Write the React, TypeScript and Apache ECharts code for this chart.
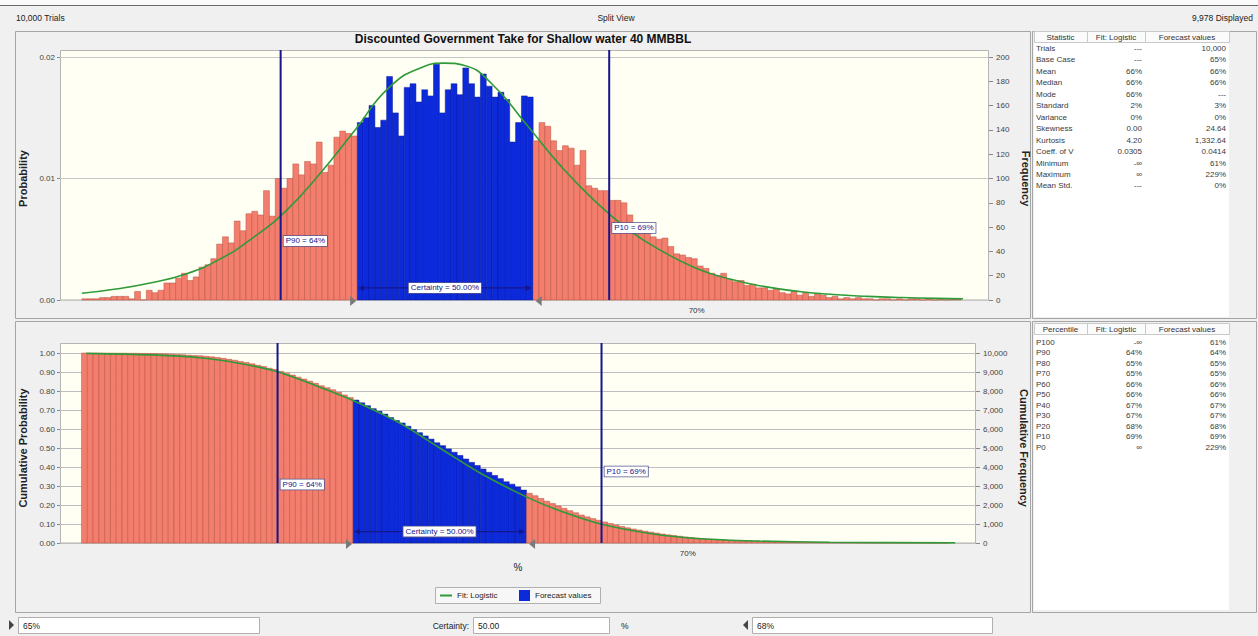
import React, { useEffect, useRef } from "react";
import * as echarts from "echarts";

// ---------- texts ----------
const TRIALS_TEXT = "10,000 Trials";
const VIEW_TEXT = "Split View";
const DISPLAYED_TEXT = "9,978 Displayed";
const TITLE = "Discounted Government Take for Shallow water 40 MMBBL";
const LEFT_SLIDER = "65%";
const RIGHT_SLIDER = "68%";
const CERTAINTY_VALUE = "50.00";
const CERTAINTY_TEXT = "Certainty = 50.00%";

// ---------- histogram data (bins in %) ----------
const binStart = 61.0;
const binWidth = 0.0858;
const frequencies = [
  1, 1, 1, 2, 2, 3, 3, 3, 1, 7, 0, 8, 6, 8, 14, 14, 18, 22, 16, 19,
  27, 29, 34, 46, 52, 47, 65, 57, 71, 73, 70, 90, 69, 100, 92, 100, 112, 103, 114, 112,
  130, 105, 111, 134, 139, 137, 135,
  146, 150, 160, 142, 148, 184, 154, 135, 175, 178, 163, 173, 168, 194, 154, 173, 178, 169, 191, 178,
  167, 186, 176, 167, 171, 165, 130, 146, 168, 167,
  131, 146, 143, 131, 123, 127, 125, 111, 123, 94, 92, 90, 90,
  82, 82, 80, 70, 62, 55, 57, 52, 50, 51,
  44, 38, 37, 35, 34, 28, 26, 22, 20, 22,
  17, 15, 16, 12, 13, 10, 10, 8, 9, 6,
  5, 7, 4, 6, 3, 5, 4, 2, 3, 1,
  2, 1, 2, 1, 1, 0, 1, 1, 0, 1,
  0, 1, 1, 0, 1, 0, 1, 0, 1, 1,
];

// fitted logistic curve (frequency per bin)
const fitX = [61.0, 61.5, 62.0, 62.5, 63.0, 63.5, 64.0, 64.5, 65.0, 65.5, 66.0, 66.3, 66.6, 67.0, 67.5, 68.0, 68.5, 69.0, 69.5, 70.0, 70.5, 71.0, 71.5, 72.0, 72.5, 73.0, 73.5, 73.9];
const fitFreq = [5.5, 9, 14, 21, 33, 51, 74, 105, 140, 175, 192, 195, 193, 178, 145, 111, 82, 58, 40, 26, 17, 11, 7, 4.5, 3, 2, 1.3, 1];

// cumulative (reverse) fit curve
const cumFitX = [61.07, 62.02, 62.76, 63.35, 63.92, 64.54, 65.03, 65.73, 66.32, 66.91, 67.62, 68.1, 68.71, 69.44, 70.18, 71.07, 72.11, 73.97];
const cumFitProb = [0.998, 0.99, 0.975, 0.945, 0.9, 0.82, 0.75, 0.63, 0.5, 0.37, 0.24, 0.17, 0.1, 0.05, 0.022, 0.01, 0.004, 0.0005];

// percentile markers and certainty range
const percentileValues = [63.91, 68.72];
const percentileLabels = ["P90 = 64%", "P10 = 69%"];
const certaintyLow = 65.03;
const certaintyHigh = 67.6;

// axis ticks
const xLabelValues = [70];
const X_MIN = 60.68;
const X_MAX = 74.28;

// tables
const statHeader = ["Statistic", "Fit: Logistic", "Forecast values"];
const statRows = [
  ["Trials", "---", "10,000"],
  ["Base Case", "---", "65%"],
  ["Mean", "66%", "66%"],
  ["Median", "66%", "66%"],
  ["Mode", "66%", "---"],
  ["Standard", "2%", "3%"],
  ["Variance", "0%", "0%"],
  ["Skewness", "0.00", "24.64"],
  ["Kurtosis", "4.20", "1,332.64"],
  ["Coeff. of V", "0.0305", "0.0414"],
  ["Minimum", "-\u221e", "61%"],
  ["Maximum", "\u221e", "229%"],
  ["Mean Std.", "---", "0%"],
];
const pctHeader = ["Percentile", "Fit: Logistic", "Forecast values"];
const pctRows = [
  ["P100", "-\u221e", "61%"],
  ["P90", "64%", "64%"],
  ["P80", "65%", "65%"],
  ["P70", "65%", "65%"],
  ["P60", "66%", "66%"],
  ["P50", "66%", "66%"],
  ["P40", "67%", "67%"],
  ["P30", "67%", "67%"],
  ["P20", "68%", "68%"],
  ["P10", "69%", "69%"],
  ["P0", "\u221e", "229%"],
];

// ---------- styles ----------
const FONT = "'Liberation Sans', Arial, sans-serif";
const RED = "#F47E6E";
const RED_EDGE = "#B9503F";
const BLUE = "#0C2ADA";
const BLUE_EDGE = "#06199A";
const NAVY = "#16168C";
const GREEN = "#2F9A38";
const TOP_LABEL_LEVELS = [48.6, 59.3];
const BOTTOM_LABEL_LEVELS = [0.308, 0.376];
const TOP_ARROW_LEVEL = 9.9;
const BOTTOM_ARROW_LEVEL = 0.06;

function txt(text: string, x: number, y: number, o: any = {}) {
  return {
    type: "text",
    x,
    y,
    z: 10,
    silent: true,
    style: {
      text,
      font: `${o.weight || "normal"} ${o.size || 8.5}px ${FONT}`,
      fill: o.color || "#333",
      align: o.align || "left",
      textAlign: o.align || "left",
      verticalAlign: "middle",
      textVerticalAlign: "middle",
    },
  };
}
function rect(x: number, y: number, w: number, h: number, fill: string | null, stroke?: string, z = -10) {
  return {
    type: "rect",
    z,
    silent: true,
    shape: { x, y, width: w, height: h },
    style: { fill: fill || "none", stroke: stroke || null, lineWidth: stroke ? 1 : 0 },
  };
}

function tableElements(header: string[], rows: string[][], headerY: number, rowY0: number, step: number, bgTop: number, bgBottom: number) {
  const els: any[] = [];
  els.push(rect(1034, bgTop, 195, bgBottom - bgTop, "#ffffff", undefined, -9));
  const cols = [
    [1034, 1087],
    [1087, 1145],
    [1145, 1229],
  ];
  cols.forEach((c, i) => {
    els.push(rect(c[0] + 0.5, headerY - 5.5, c[1] - c[0], 11, "#fbfbfb", "#c9c9c9", -8));
    els.push(txt(header[i], (c[0] + c[1]) / 2, headerY, { align: "center", color: "#333", size: 8 }));
  });
  rows.forEach((r, i) => {
    const y = rowY0 + i * step;
    els.push(txt(r[0], 1036, y, { color: "#3a3a3a", size: 8 }));
    els.push(txt(r[1], 1142, y, { align: "right", color: "#3a3a3a", size: 8 }));
    els.push(txt(r[2], 1226, y, { align: "right", color: "#3a3a3a", size: 8 }));
  });
  return els;
}

function buildOption() {
  const total = frequencies.reduce((a, b) => a + b, 0);
  const binData = frequencies.map((f, i) => {
    const x0 = binStart + i * binWidth;
    const x1 = x0 + binWidth;
    const c = (x0 + x1) / 2;
    return [x0, x1, f, c >= certaintyLow && c <= certaintyHigh ? 1 : 0];
  });
  const cum: number[] = new Array(frequencies.length);
  let run = 0;
  for (let i = frequencies.length - 1; i >= 0; i--) {
    run += frequencies[i];
    cum[i] = run / total;
  }
  const cumData = binData.map((d, i) => [d[0], d[1], cum[i], d[3]]);

  const barRender = (params: any, api: any) => {
    const p0 = api.coord([api.value(0), api.value(2)]);
    const p1 = api.coord([api.value(1), 0]);
    const blue = api.value(3) === 1;
    return {
      type: "rect",
      shape: { x: p0[0], y: p0[1], width: p1[0] - p0[0], height: p1[1] - p0[1] },
      style: { fill: blue ? BLUE : RED, stroke: blue ? BLUE_EDGE : RED_EDGE, lineWidth: 0.5 },
    };
  };

  const markerRender = (levels: number[], padTop: number) => (params: any, api: any) => {
    const i = params.dataIndex;
    const cs = params.coordSys;
    const x = api.coord([api.value(0), 0])[0];
    const ly = api.coord([api.value(0), levels[i]])[1];
    return {
      type: "group",
      children: [
        { type: "line", shape: { x1: x, y1: cs.y - padTop, x2: x, y2: cs.y + cs.height }, style: { stroke: NAVY, lineWidth: 2 } },
        {
          type: "text",
          x: x + 3,
          y: ly,
          style: {
            text: percentileLabels[i],
            fill: NAVY,
            font: `8px ${FONT}`,
            align: "left",
            verticalAlign: "middle",
            backgroundColor: "#ffffff",
            borderColor: "#55558f",
            borderWidth: 0.8,
            padding: [1, 2, 1, 2],
          },
        },
      ],
    };
  };

  const certaintyRender = (params: any, api: any) => {
    const cs = params.coordSys;
    const lo = api.coord([api.value(0), api.value(1)]);
    const hi = api.coord([api.value(2), api.value(1)]);
    const y = lo[1];
    const yb = cs.y + cs.height;
    return {
      type: "group",
      children: [
        { type: "line", shape: { x1: lo[0] + 2, y1: y, x2: hi[0] - 2, y2: y }, style: { stroke: NAVY, lineWidth: 1.2 } },
        { type: "polygon", shape: { points: [[lo[0] + 1, y], [lo[0] + 7, y - 3], [lo[0] + 7, y + 3]] }, style: { fill: NAVY } },
        { type: "polygon", shape: { points: [[hi[0] - 1, y], [hi[0] - 7, y - 3], [hi[0] - 7, y + 3]] }, style: { fill: NAVY } },
        {
          type: "text",
          x: (lo[0] + hi[0]) / 2,
          y,
          style: {
            text: CERTAINTY_TEXT,
            fill: NAVY,
            font: `8px ${FONT}`,
            align: "center",
            verticalAlign: "middle",
            backgroundColor: "#ffffff",
            borderColor: "#55558f",
            borderWidth: 0.8,
            padding: [1, 2, 1, 2],
          },
        },
        { type: "polygon", shape: { points: [[lo[0] - 7, yb - 4], [lo[0] - 1, yb + 1], [lo[0] - 7, yb + 6]] }, style: { fill: "#7a7a7a" } },
        { type: "polygon", shape: { points: [[hi[0] + 9, yb - 4], [hi[0] + 3, yb + 1], [hi[0] + 9, yb + 6]] }, style: { fill: "#7a7a7a" } },
      ],
    };
  };

  const xAxisBase = (gridIndex: number, extra: any = {}) => ({
    type: "value",
    gridIndex,
    min: X_MIN,
    max: X_MAX,
    axisLine: { show: false },
    axisTick: { show: false },
    splitLine: { show: false },
    axisLabel: {
      customValues: xLabelValues,
      formatter: (v: number) => `${Math.round(v)}%`,
      fontSize: 8,
      color: "#333",
      fontFamily: FONT,
      margin: 6,
    },
    ...extra,
  });

  const yName = (name: string, rot: number, gap: number) => ({
    name,
    nameLocation: "middle",
    nameRotate: rot,
    nameGap: gap,
    nameTextStyle: { fontSize: 11, fontWeight: "bold", color: "#222", fontFamily: FONT },
  });
  const yLabel = (fmt: (v: number) => string, margin: number) => ({
    formatter: fmt,
    fontSize: 8,
    color: "#444",
    fontFamily: FONT,
    margin,
  });

  const graphics: any[] = [
    rect(0, 0, 1258, 636, "#f0f0f0", undefined, -20),
    rect(0, 0, 1258, 5, "#fafafa", undefined, -19),
    { type: "line", z: -5, silent: true, shape: { x1: 0, y1: 5.5, x2: 1258, y2: 5.5 }, style: { stroke: "#6a6a6a", lineWidth: 1 } },
    txt(TRIALS_TEXT, 16, 18, { size: 8.5, color: "#222" }),
    txt(VIEW_TEXT, 616, 18, { size: 8.5, color: "#222", align: "center" }),
    txt(DISPLAYED_TEXT, 1253, 18, { size: 8.5, color: "#222", align: "right" }),
    // panels
    rect(15.5, 31.5, 1015, 287, "#f0f0f0", "#a5a5a5", -15),
    rect(15.5, 321.5, 1015, 291, "#f0f0f0", "#a5a5a5", -15),
    rect(1032.5, 31.5, 224, 287, "#f0f0f0", "#a5a5a5", -15),
    rect(1032.5, 321.5, 224, 291, "#f0f0f0", "#a5a5a5", -15),
    // plot backgrounds
    rect(60.5, 50.5, 928, 249.5, "#fffff4", "#b5b5b5", -10),
    rect(60.5, 343.5, 915, 199.5, "#fffff4", "#b5b5b5", -10),
    txt(TITLE, 523, 39, { weight: "bold", size: 12, color: "#111", align: "center" }),
    ...tableElements(statHeader, statRows, 37, 48.5, 11.45, 31.5, 317),
    ...tableElements(pctHeader, pctRows, 329, 342, 10.5, 323, 610),
    // legend frame
    rect(435.5, 587.5, 165, 16, "#f7f7f7", "#b0b0b0", -5),
    // bottom controls
    { type: "polygon", z: 5, silent: true, shape: { points: [[9, 620], [14, 625], [9, 630]] }, style: { fill: "#444" } },
    rect(18.5, 617.5, 241, 16, "#ffffff", "#b0b0b0", -5),
    txt(LEFT_SLIDER, 23, 625.5, { size: 8.5, color: "#222" }),
    txt("Certainty:", 469, 625.5, { size: 8.5, color: "#222", align: "right" }),
    rect(473.5, 617.5, 136, 16, "#ffffff", "#b0b0b0", -5),
    txt(CERTAINTY_VALUE, 478, 625.5, { size: 8.5, color: "#222" }),
    txt("%", 621, 625.5, { size: 8.5, color: "#222" }),
    { type: "polygon", z: 5, silent: true, shape: { points: [[748, 620], [743, 625], [748, 630]] }, style: { fill: "#444" } },
    rect(752.5, 617.5, 240, 16, "#ffffff", "#b0b0b0", -5),
    txt(RIGHT_SLIDER, 757, 625.5, { size: 8.5, color: "#222" }),
  ];

  const legendText = { fontSize: 8, color: "#222", fontFamily: FONT };

  return {
    animation: false,
    backgroundColor: "#f0f0f0",
    textStyle: { fontFamily: FONT },
    grid: [
      { left: 60, top: 57, width: 929, height: 243, outerBoundsMode: "none", containLabel: false },
      { left: 60, top: 353, width: 916, height: 190, outerBoundsMode: "none", containLabel: false },
    ],
    legend: [
      {
        left: 440,
        top: 591.5,
        padding: 0,
        data: [{ name: "Fit: Logistic", icon: "rect" }],
        itemWidth: 12,
        itemHeight: 2,
        selectedMode: false,
        textStyle: legendText,
      },
      {
        left: 519,
        top: 590,
        padding: 0,
        data: [{ name: "Forecast values", icon: "rect" }],
        itemWidth: 11,
        itemHeight: 11,
        itemGap: 3,
        selectedMode: false,
        textStyle: legendText,
      },
    ],
    xAxis: [xAxisBase(0), xAxisBase(1, { name: "%", nameLocation: "middle", nameGap: 19, nameTextStyle: { fontSize: 10, color: "#222", fontFamily: FONT } })],
    yAxis: [
      {
        type: "value",
        gridIndex: 0,
        position: "left",
        min: 0,
        max: 0.02,
        interval: 0.01,
        axisLine: { show: false },
        axisTick: { show: true, length: 3, lineStyle: { color: "#888" } },
        splitLine: { show: true, lineStyle: { color: "#c6c6c6", width: 1 } },
        axisLabel: yLabel((v) => v.toFixed(2), 5),
        ...yName("Probability", 90, 24),
      },
      {
        type: "value",
        gridIndex: 0,
        position: "right",
        min: 0,
        max: 200,
        interval: 20,
        axisLine: { show: false },
        axisTick: { show: true, length: 4, lineStyle: { color: "#888" } },
        splitLine: { show: false },
        axisLabel: yLabel((v) => String(v), 7),
        ...yName("Frequency", -90, 22),
      },
      {
        type: "value",
        gridIndex: 1,
        position: "left",
        min: 0,
        max: 1,
        interval: 0.1,
        axisLine: { show: false },
        axisTick: { show: true, length: 3, lineStyle: { color: "#888" } },
        splitLine: { show: true, lineStyle: { color: "#bdbdbd", width: 1 } },
        axisLabel: yLabel((v) => v.toFixed(2), 5),
        ...yName("Cumulative Probability", 90, 30),
      },
      {
        type: "value",
        gridIndex: 1,
        position: "right",
        min: 0,
        max: 10000,
        interval: 1000,
        axisLine: { show: false },
        axisTick: { show: true, length: 4, lineStyle: { color: "#888" } },
        splitLine: { show: false },
        axisLabel: yLabel((v) => v.toLocaleString("en-US"), 7),
        ...yName("Cumulative Frequency", -90, 36),
      },
    ],
    series: [
      {
        type: "custom",
        name: "Forecast values",
        xAxisIndex: 0,
        yAxisIndex: 1,
        z: 2,
        itemStyle: { color: BLUE },
        encode: { x: [0, 1], y: 2 },
        data: binData,
        renderItem: barRender,
        silent: true,
      },
      {
        type: "line",
        name: "Fit: Logistic",
        xAxisIndex: 0,
        yAxisIndex: 1,
        z: 3,
        smooth: 0.5,
        symbol: "none",
        lineStyle: { color: GREEN, width: 1.6 },
        itemStyle: { color: GREEN },
        data: fitX.map((x, i) => [x, fitFreq[i]]),
        silent: true,
      },
      {
        type: "custom",
        name: "pTop",
        xAxisIndex: 0,
        yAxisIndex: 1,
        z: 4,
        encode: { x: 0, y: 1 },
        data: percentileValues.map((v) => [v, 0]),
        renderItem: markerRender(TOP_LABEL_LEVELS, 7),
        silent: true,
      },
      {
        type: "custom",
        name: "cTop",
        xAxisIndex: 0,
        yAxisIndex: 1,
        z: 5,
        encode: { x: [0, 2], y: 1 },
        data: [[certaintyLow, TOP_ARROW_LEVEL, certaintyHigh]],
        renderItem: certaintyRender,
        silent: true,
      },
      {
        type: "custom",
        name: "Forecast values",
        xAxisIndex: 1,
        yAxisIndex: 2,
        z: 2,
        itemStyle: { color: BLUE },
        encode: { x: [0, 1], y: 2 },
        data: cumData,
        renderItem: barRender,
        silent: true,
      },
      {
        type: "line",
        name: "Fit: Logistic",
        xAxisIndex: 1,
        yAxisIndex: 2,
        z: 3,
        smooth: 0.3,
        symbol: "none",
        lineStyle: { color: GREEN, width: 1.6 },
        itemStyle: { color: GREEN },
        data: cumFitX.map((x, i) => [x, cumFitProb[i]]),
        silent: true,
      },
      {
        type: "custom",
        name: "pBottom",
        xAxisIndex: 1,
        yAxisIndex: 2,
        z: 4,
        encode: { x: 0, y: 1 },
        data: percentileValues.map((v) => [v, 0]),
        renderItem: markerRender(BOTTOM_LABEL_LEVELS, 10),
        silent: true,
      },
      {
        type: "custom",
        name: "cBottom",
        xAxisIndex: 1,
        yAxisIndex: 2,
        z: 5,
        encode: { x: [0, 2], y: 1 },
        data: [[certaintyLow, BOTTOM_ARROW_LEVEL, certaintyHigh]],
        renderItem: certaintyRender,
        silent: true,
      },
    ],
    graphic: { elements: graphics },
  };
}

export default function App() {
  const ref = useRef<HTMLDivElement>(null);
  useEffect(() => {
    const chart = echarts.init(ref.current as HTMLDivElement, null, { renderer: "svg" });
    chart.setOption(buildOption() as any);
    return () => chart.dispose();
  }, []);
  return <div ref={ref} style={{ position: "fixed", left: 0, top: 0, width: 1258, height: 636 }} />;
}
